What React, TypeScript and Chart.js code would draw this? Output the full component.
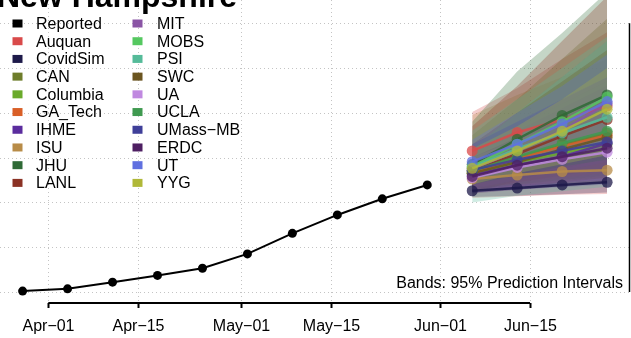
import React, { useEffect, useRef } from "react";
import { Chart, registerables } from "chart.js";
Chart.register(...registerables);

const TITLE = "New Hampshire";
const NOTE = "Bands: 95% Prediction Intervals";
// days since Apr-01
const TICK_DAYS = [0, 14, 30, 44, 61, 75];
const TICK_LABELS = ["Apr\u221201", "Apr\u221215", "May\u221201", "May\u221215", "Jun\u221201", "Jun\u221215"];
const Y_GRID = [0, 100, 200, 300, 400, 500, 600];

const REPORTED_DAYS = [-4, 3, 10, 17, 24, 31, 38, 45, 52, 59];
const REPORTED = [2, 7, 22, 37, 53, 85, 131, 172, 208, 239];

const FORECAST_DAYS = [66, 73, 80, 87];

const MODEL_NAMES = [
  "Auquan", "CovidSim", "CAN", "Columbia", "GA_Tech", "IHME", "ISU", "JHU", "LANL",
  "MIT", "MOBS", "PSI", "SWC", "UA", "UCLA", "UMass\u2212MB", "ERDC", "UT", "YYG",
];
const MODEL_COLORS = [
  "#d94a4a", "#1e1a4a", "#6e7d2b", "#6aaa2b", "#d95f27", "#5b2c9e", "#b88c48", "#2f6a36", "#8b3224",
  "#8a55a5", "#55c860", "#55bb99", "#6b5520", "#c089e0", "#3f9a50", "#3f3f99", "#4e1f62", "#6070e0", "#b0b838",
];
const MEANS = [
  [315, 356, 385, 415], // Auquan
  [226, 232, 239, 245], // CovidSim
  [270, 300, 328, 355], // CAN
  [265, 290, 310, 330], // Columbia
  [266, 298, 325, 350], // GA_Tech
  [261, 283, 302, 332], // IHME
  [252, 261, 269, 272], // ISU
  [285, 341, 394, 440], // JHU
  [270, 308, 348, 385], // LANL
  [275, 315, 360, 421], // MIT
  [280, 330, 380, 435], // MOBS
  [278, 320, 355, 390], // PSI
  [265, 290, 318, 345], // SWC
  [255, 278, 296, 312], // UA
  [270, 302, 332, 359], // UCLA
  [272, 295, 315, 335], // UMass-MB
  [258, 283, 302, 321], // ERDC
  [291, 330, 375, 425], // UT
  [276, 315, 359, 408], // YYG
];
const LOWER = [
  [210, 214, 217, 219],
  [212, 215, 218, 222],
  [225, 240, 250, 260],
  [230, 240, 250, 255],
  [230, 245, 255, 265],
  [222, 228, 234, 240],
  [235, 240, 243, 245],
  [220, 250, 275, 300],
  [225, 245, 260, 275],
  [230, 250, 270, 290],
  [240, 265, 285, 305],
  [200, 215, 225, 235],
  [225, 235, 245, 255],
  [225, 235, 245, 250],
  [240, 260, 280, 295],
  [222, 230, 238, 245],
  [220, 228, 236, 244],
  [250, 275, 300, 320],
  [240, 265, 285, 305],
];
const UPPER = [
  [402, 455, 520, 580],
  [275, 300, 325, 350],
  [350, 430, 520, 610],
  [320, 370, 420, 470],
  [310, 360, 410, 460],
  [310, 360, 410, 460],
  [395, 440, 480, 520],
  [380, 492, 578, 670],
  [370, 460, 560, 660],
  [330, 400, 480, 560],
  [320, 400, 480, 560],
  [360, 430, 500, 570],
  [330, 400, 470, 540],
  [300, 340, 380, 420],
  [300, 345, 390, 430],
  [330, 380, 430, 480],
  [300, 345, 390, 435],
  [340, 400, 460, 530],
  [320, 370, 430, 500],
];

const X_MIN = -7.52;
const X_MAX = 90.72;
const Y_MIN = -102.7;
const Y_MAX = 651.8;
const FONT = "'Liberation Sans', Arial, Helvetica, sans-serif";

function rgba(hex: string, a: number) {
  const n = parseInt(hex.slice(1), 16);
  return `rgba(${(n >> 16) & 255},${(n >> 8) & 255},${n & 255},${a})`;
}

const pts = (xs: number[], ys: number[]) => xs.map((x, i) => ({ x, y: ys[i] }));

const decor = {
  id: "decor",
  beforeDatasetsDraw(chart: any) {
    const { ctx } = chart;
    const x = chart.scales.x;
    const y = chart.scales.y;
    const right = chart.width - 1;
    const axisY = Math.round(y.getPixelForValue(0)) + 11;
    ctx.save();
    ctx.strokeStyle = "#c4c4c4";
    ctx.lineWidth = 1;
    ctx.setLineDash([1, 3]);
    for (const v of Y_GRID) {
      const py = Math.round(y.getPixelForValue(v)) + 0.5;
      ctx.beginPath();
      ctx.moveTo(0, py);
      ctx.lineTo(right, py);
      ctx.stroke();
    }
    for (const d of TICK_DAYS) {
      const px = Math.round(x.getPixelForValue(d)) + 0.5;
      ctx.beginPath();
      ctx.moveTo(px, 0);
      ctx.lineTo(px, axisY);
      ctx.stroke();
    }
    ctx.restore();
  },
  afterDatasetsDraw(chart: any) {
    const { ctx } = chart;
    const x = chart.scales.x;
    const y = chart.scales.y;
    const axisY = Math.round(y.getPixelForValue(0)) + 11;
    ctx.save();
    // bottom axis
    ctx.strokeStyle = "#000";
    ctx.lineWidth = 2;
    ctx.beginPath();
    ctx.moveTo(x.getPixelForValue(TICK_DAYS[0]), axisY);
    ctx.lineTo(x.getPixelForValue(TICK_DAYS[TICK_DAYS.length - 1]), axisY);
    ctx.stroke();
    ctx.font = `16px ${FONT}`;
    ctx.fillStyle = "#000";
    ctx.textAlign = "center";
    ctx.textBaseline = "middle";
    TICK_DAYS.forEach((d, i) => {
      const px = Math.round(x.getPixelForValue(d)) + 0.5;
      ctx.beginPath();
      ctx.moveTo(px, axisY);
      ctx.lineTo(px, axisY + 5);
      ctx.stroke();
      ctx.fillText(TICK_LABELS[i], px, axisY + 24);
    });
    // right axis
    const rx = chart.width - 1.5;
    ctx.lineWidth = 1.5;
    ctx.beginPath();
    ctx.moveTo(rx, y.getPixelForValue(Y_GRID[0]));
    ctx.lineTo(rx, y.getPixelForValue(Y_GRID[Y_GRID.length - 1]));
    ctx.stroke();
    // note
    ctx.textAlign = "right";
    ctx.fillText(NOTE, 623, y.getPixelForValue(0) - 8);
    // title
    ctx.font = `bold 32px ${FONT}`;
    ctx.textAlign = "center";
    ctx.textBaseline = "alphabetic";
    ctx.fillText(TITLE, 117, 7);
    // legend
    const names = ["Reported", ...MODEL_NAMES];
    const cols = ["#000000", ...MODEL_COLORS];
    ctx.font = `16px ${FONT}`;
    ctx.textAlign = "left";
    ctx.textBaseline = "middle";
    names.forEach((nm, i) => {
      const col = Math.floor(i / 10);
      const row = i % 10;
      const cy = 23.5 + row * 17.71;
      const sx = col === 0 ? 12.5 : 132.5;
      const tx = col === 0 ? 36 : 157;
      ctx.fillStyle = cols[i];
      ctx.fillRect(sx, cy - 4, 10, 8);
      ctx.fillStyle = "#000";
      ctx.fillText(nm, tx, cy + 1);
    });
    ctx.restore();
  },
};

export default function App() {
  const ref = useRef<HTMLCanvasElement | null>(null);
  useEffect(() => {
    if (!ref.current) return;
    const datasets: any[] = [];
    MODEL_NAMES.forEach((nm, i) => {
      datasets.push({
        label: nm + " lo",
        data: pts(FORECAST_DAYS, LOWER[i]),
        borderWidth: 0,
        pointRadius: 0,
        fill: false,
        order: 300 - 2 * i,
      });
      datasets.push({
        label: nm + " hi",
        data: pts(FORECAST_DAYS, UPPER[i]),
        borderWidth: 0,
        pointRadius: 0,
        fill: "-1",
        backgroundColor: rgba(MODEL_COLORS[i], 0.28),
        order: 299 - 2 * i,
      });
    });
    MODEL_NAMES.forEach((nm, i) => {
      datasets.push({
        label: nm,
        data: pts(FORECAST_DAYS, MEANS[i]),
        borderColor: rgba(MODEL_COLORS[i], 0.85),
        borderWidth: 2.5,
        pointRadius: 5.5,
        pointBorderWidth: 0,
        pointBackgroundColor: rgba(MODEL_COLORS[i], 0.75),
        fill: false,
        order: 100 - i,
      });
    });
    datasets.push({
      label: "Reported",
      data: pts(REPORTED_DAYS, REPORTED),
      borderColor: "#000",
      borderWidth: 2,
      pointRadius: 4.5,
      pointBorderWidth: 0,
      pointBackgroundColor: "#000",
      fill: false,
      order: 0,
    });
    const chart = new Chart(ref.current, {
      type: "line",
      data: { datasets },
      options: {
        responsive: false,
        maintainAspectRatio: false,
        devicePixelRatio: 1,
        animation: false,
        events: [],
        layout: { padding: 0, autoPadding: false },
        elements: { line: { tension: 0 } },
        plugins: { legend: { display: false }, tooltip: { enabled: false } },
        scales: {
          x: { type: "linear", display: false, min: X_MIN, max: X_MAX },
          y: { type: "linear", display: false, min: Y_MIN, max: Y_MAX },
        },
      },
      plugins: [decor],
    });
    return () => chart.destroy();
  }, []);
  return (
    <div style={{ position: "fixed", left: 0, top: 0, width: 631, height: 338, background: "#fff" }}>
      <canvas ref={ref} width={631} height={338} style={{ display: "block" }} />
    </div>
  );
}
